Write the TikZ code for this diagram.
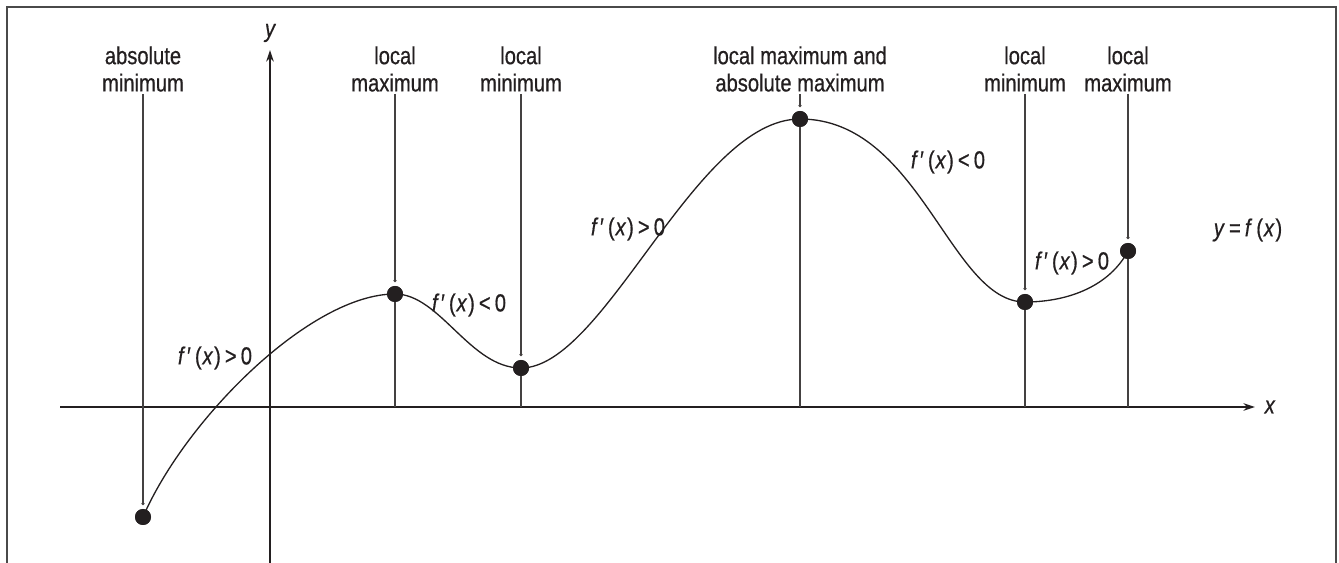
\documentclass[tikz,border=0pt]{standalone}
\usepackage{fontspec}
\setmainfont{Liberation Sans}[FakeStretch=0.82, FakeBold=0.6]
\usepackage{tikz}
\usetikzlibrary{arrows.meta,positioning,calc}
\definecolor{framegray}{HTML}{4A4A4A}
\definecolor{inkblack}{HTML}{231F20}
\newcommand{\fder}[1]{\textit{f}\kern1pt′\,(\kern0.5pt\textit{x}\kern0.5pt)\,#1\,0}

\begin{document}
\begin{tikzpicture}[
  x=0.02cm, y=-0.02cm,
  every node/.style={font=\fontsize{14}{15.5}\selectfont, text=inkblack},
  lbl/.style={align=center, inner sep=1pt},
  extr/.style={circle, fill=inkblack, minimum size=16*0.02cm, inner sep=0pt},
  guide/.style={draw=inkblack!85, line width=0.6pt, -{Circle[length=1.7pt]}, shorten >=2pt},
  drop/.style={draw=inkblack!85, line width=0.7pt},
  axis/.style={draw=inkblack, line width=0.8pt, -{Stealth[length=2.3mm,width=1.5mm]}},
  graph/.style={draw=inkblack, line width=0.75pt}
]
  \useasboundingbox (0,0) rectangle (1339,563);
  \draw[framegray, line width=1.2pt] (7,563) -- (7,7) -- (1336,7) -- (1336,563);

  % axes
  \coordinate (O) at (270,407);
  \coordinate (xs) at (60,407);
  \coordinate (xe) at (1255,407);
  \coordinate (ys) at (270,563);
  \coordinate (ye) at (270,50);
  \draw[axis] (xs) -- (xe);
  \draw[axis] (ys) -- (ye);
  \node[right=2pt of xe, font=\fontsize{14}{15.5}\selectfont\itshape] (xlab) {x};
  \node[above=1pt of ye, font=\fontsize{14}{15.5}\selectfont\itshape] (ylab) {y};

  % extreme points
  \node[extr] (pAbsMin) at (143,517) {};
  \node[extr] (pLocMaxA) at (395,294) {};
  \node[extr] (pLocMinA) at (521,368) {};
  \node[extr] (pAbsMax) at (800,119) {};
  \node[extr] (pLocMinB) at (1025,302) {};
  \node[extr] (pLocMaxB) at (1128,251) {};

  % labels
  \node[lbl] (lAbsMin) at (143,69) {absolute\\minimum};
  \node[lbl] (lLocMaxA) at (395,69) {local\\maximum};
  \node[lbl] (lLocMinA) at (521,69) {local\\minimum};
  \node[lbl] (lAbsMax) at (800,69) {local maximum and\\absolute maximum};
  \node[lbl] (lLocMinB) at (1025,69) {local\\minimum};
  \node[lbl] (lLocMaxB) at (1128,69) {local\\maximum};

  \draw[guide] (lAbsMin.south) -- (pAbsMin.north);
  \draw[guide] (lLocMaxA.south) -- (pLocMaxA.north);
  \draw[guide] (lLocMinA.south) -- (pLocMinA.north);
  \draw[guide] (lAbsMax.south) -- (pAbsMax.north);
  \draw[guide] (lLocMinB.south) -- (pLocMinB.north);
  \draw[guide] (lLocMaxB.south) -- (pLocMaxB.north);

  \draw[drop] (pLocMaxA.center) -- (pLocMaxA.center |- O);
  \draw[drop] (pLocMinA.center) -- (pLocMinA.center |- O);
  \draw[drop] (pAbsMax.center) -- (pAbsMax.center |- O);
  \draw[drop] (pLocMinB.center) -- (pLocMinB.center |- O);
  \draw[drop] (pLocMaxB.center) -- (pLocMaxB.center |- O);

  % the graph
  \draw[graph] (pAbsMin.center) .. controls (185,420) and (310,294) .. (pLocMaxA.center)
    .. controls (440,294) and (470,368) .. (pLocMinA.center)
    .. controls (605,368) and (695,119) .. (pAbsMax.center)
    .. controls (920,119) and (950,302) .. (pLocMinB.center)
    .. controls (1070,302) and (1110,285) .. (pLocMaxB.center);
  \foreach \p in {pAbsMin,pLocMaxA,pLocMinA,pAbsMax,pLocMinB,pLocMaxB}
    \node[extr] at (\p) {};

  % sign of the derivative
  \node (d1) at (215,358) {\fder{>}};
  \node (d2) at (469,305) {\fder{<}};
  \node (d3) at (628,229) {\fder{>}};
  \node (d4) at (948,162) {\fder{<}};
  \node (d5) at (1072,263) {\fder{>}};
  \node (func) at (1248,230) {\textit{y}\,=\,\textit{f}\,(\kern0.5pt\textit{x}\kern0.5pt)};
\end{tikzpicture}
\end{document}
